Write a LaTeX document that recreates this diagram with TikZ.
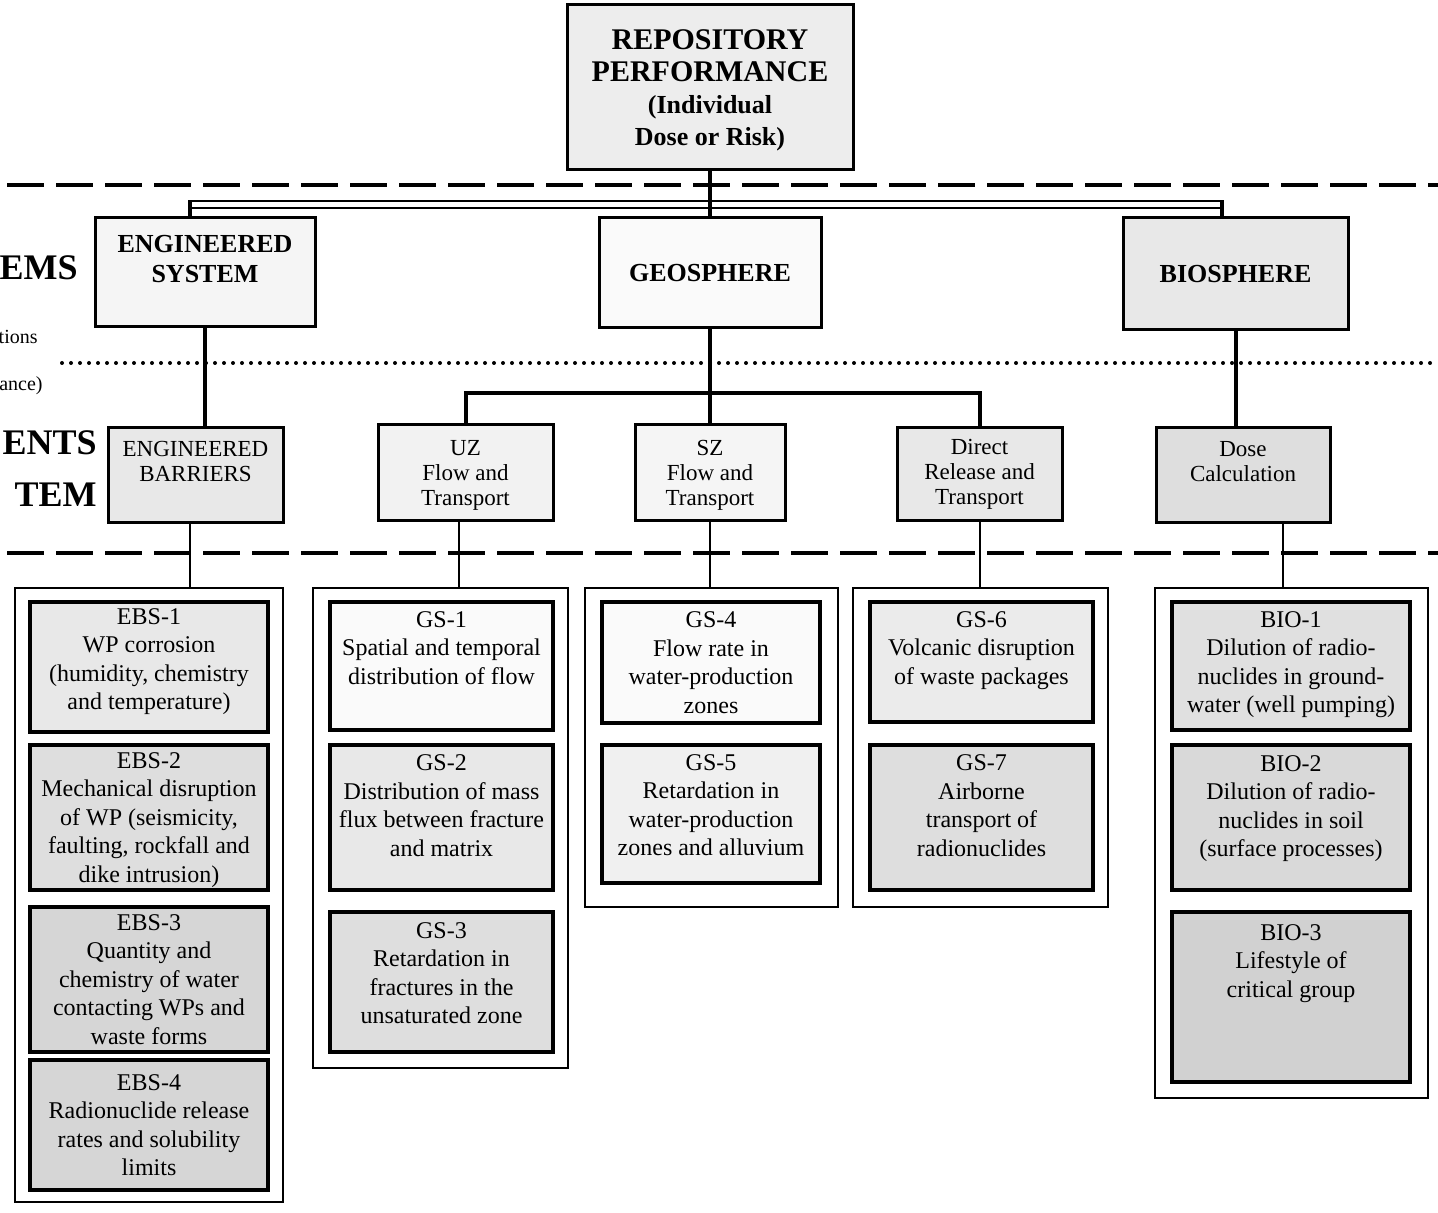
\documentclass[tikz,border=0pt]{standalone}
\usepackage{fontspec}
\setmainfont{Liberation Serif}

\tikzset{
  topbox/.style={draw, line width=1.5pt, inner sep=0pt, align=center, font=\bfseries\fontsize{15}{16}\selectfont},
  sysbox/.style={draw, line width=1.5pt, inner sep=0pt, align=center, font=\bfseries\fontsize{13}{15}\selectfont},
  compbox/.style={draw, line width=1.5pt, inner sep=0pt, align=center, font=\fontsize{11.5}{12.5}\selectfont},
  groupbox/.style={draw, line width=1.3pt, fill=white, inner sep=0pt},
  itembox/.style={draw, line width=1.6pt, inner sep=0pt, minimum width=119pt, align=center, font=\fontsize{12}{14.25}\selectfont},
  gsbox/.style={itembox, minimum width=111.5pt},
  sidebig/.style={inner sep=0pt, anchor=east, font=\bfseries\fontsize{18}{20}\selectfont},
  sidesmall/.style={inner sep=0pt, anchor=east, font=\fontsize{10}{12}\selectfont},
  link/.style={line width=2pt},
  sublink/.style={line width=1pt},
  bus/.style={double, line width=1pt, double distance=2.5pt},
  layer/.style={line width=2.2pt, dash pattern=on 18.5pt off 6pt},
  sublayer/.style={line width=2pt, line cap=round, dash pattern=on 0pt off 4.5pt}
}

\begin{document}
\begin{tikzpicture}[x=0.5pt, y=-0.5pt]
\useasboundingbox (0,0) rectangle (1438,1213);

\draw[layer] (7,185) -- (1438,185);
\draw[sublayer] (62,363) -- (1438,363);
\draw[layer] (7,553) -- (1438,553);

\node[sidebig] (sysa) at (78,268) {EMS};
\node[sidesmall] (sysb) at (38,337) {tions};
\node[sidesmall] (sysc) at (43,386) {ance)};
\node[sidebig] (compa) at (97,443) {ENTS};
\node[sidebig] (compb) at (97,495) {TEM};

\node[topbox, fill=black!7, minimum width=143pt, minimum height=82.5pt, text depth=-2pt] (repo) at (710,87.5)
  {REPOSITORY\\PERFORMANCE\\
   \fontsize{13}{16}\selectfont (Individual\\
   \fontsize{13}{16}\selectfont Dose or Risk)};
\node[sysbox, fill=black!4, minimum width=110pt, minimum height=54.5pt, text depth=14pt] (es) at (205,272.5) {ENGINEERED\\SYSTEM};
\node[sysbox, fill=black!2, minimum width=111pt, minimum height=55pt] (geo) at (710,273) {GEOSPHERE};
\node[sysbox, fill=black!9, minimum width=112.5pt, minimum height=56pt] (bio) at (1235.5,274) {BIOSPHERE};

\coordinate (busl) at (190,204.5);
\coordinate (busr) at (1222,204.5);
\draw[bus] (busl) -- (busr);
\draw[link] (es.north -| busl) -- ([yshift=2.25pt]busl);
\draw[link] (bio.north -| busr) -- ([yshift=2.25pt]busr);
\draw[link] (repo) -- (geo);

\node[compbox, fill=black!9, minimum width=87.5pt, minimum height=47pt, text depth=14pt] (eb) at (195.5,475) {ENGINEERED\\BARRIERS};
\node[compbox, fill=black!5, minimum width=87.5pt, minimum height=47.5pt, text depth=-4pt] (uz) at (465.5,472.5) {UZ\\Flow and\\Transport};
\node[compbox, fill=black!4, minimum width=75pt, minimum height=47.5pt, text depth=-4pt] (sz) at (710,472.5) {SZ\\Flow and\\Transport};
\node[compbox, fill=black!9, minimum width=82.5pt, minimum height=46pt] (dr) at (979.5,474) {Direct\\Release and\\Transport};
\node[compbox, fill=black!13, minimum width=87pt, minimum height=47pt, text depth=14pt] (dose) at (1243,475) {Dose\\Calculation};

\coordinate (gbus) at (710,393);
\draw[link] (es.south) -- (es.south |- eb.north);
\draw[link] (geo) -- (sz);
\draw[link] (uz.north) |- (gbus) -| (dr.north);
\draw[link] (bio.south) -- (bio.south |- dose.north);

\node[groupbox, minimum width=134pt, minimum height=307pt] (ebsg) at (149,895) {};
\node[groupbox, minimum width=127.5pt, minimum height=240pt] (gsa) at (440.5,828) {};
\node[groupbox, minimum width=126.5pt, minimum height=159.5pt] (gsb) at (711.5,747.5) {};
\node[groupbox, minimum width=127.5pt, minimum height=159.5pt] (gsc) at (980.5,747.5) {};
\node[groupbox, minimum width=136.5pt, minimum height=255pt] (biog) at (1291.5,843) {};

\draw[sublink] ([xshift=-3pt]eb.south) -- ([xshift=-3pt]eb.south |- ebsg.north);
\draw[sublink] ([xshift=-3.5pt]uz.south) -- ([xshift=-3.5pt]uz.south |- gsa.north);
\draw[sublink] (sz.south) -- (sz.south |- gsb.north);
\draw[sublink] (dr.south) -- (dr.south |- gsc.north);
\draw[sublink] ([xshift=20pt]dose.south) -- ([xshift=20pt]dose.south |- biog.north);

\node[itembox, fill=black!9, minimum height=65pt, text depth=8pt] (ebs1) at (149,667) {EBS-1\\WP corrosion\\(humidity, chemistry\\and temperature)};
\node[itembox, fill=black!13, minimum height=72.5pt, text depth=-2pt] (ebs2) at (149,817.5) {EBS-2\\Mechanical disruption\\of WP (seismicity,\\faulting, rockfall and\\dike intrusion)};
\node[itembox, fill=black!16, minimum height=72.5pt] (ebs3) at (149,979.5) {EBS-3\\Quantity and\\chemistry of water\\contacting WPs and\\waste forms};
\node[itembox, fill=black!16, minimum height=65pt] (ebs4) at (149,1125) {EBS-4\\Radionuclide release\\rates and solubility\\limits};

\node[gsbox, fill=black!2, minimum height=64pt, text depth=18pt] (gs1) at (441.5,666) {GS-1\\Spatial and temporal\\distribution of flow};
\node[gsbox, fill=black!9, minimum height=72.5pt, text depth=12pt] (gs2) at (441.5,817.5) {GS-2\\Distribution of mass\\flux between fracture\\and matrix};
\node[gsbox, fill=black!13, minimum height=70pt, text depth=9pt] (gs3) at (441.5,982) {GS-3\\Retardation in\\fractures in the\\unsaturated zone};

\node[gsbox, fill=black!2, minimum width=109pt, minimum height=60.5pt] (gs4) at (711,662.5) {GS-4\\Flow rate in\\water-production\\zones};
\node[gsbox, fill=black!6, minimum width=109pt, minimum height=69pt, text depth=9pt] (gs5) at (711,814) {GS-5\\Retardation in\\water-production\\zones and alluvium};

\node[gsbox, fill=black!8, minimum height=60pt, text depth=14pt] (gs6) at (981.5,662) {GS-6\\Volcanic disruption\\of waste packages};
\node[gsbox, fill=black!13, minimum height=72.5pt, text depth=12pt] (gs7) at (981.5,817.5) {GS-7\\Airborne\\transport of\\radionuclides};

\node[itembox, fill=black!12, minimum height=64pt, text depth=4pt] (bio1) at (1291,666) {BIO-1\\Dilution of radio-\\nuclides in ground-\\water (well pumping)};
\node[itembox, fill=black!15, minimum height=72.5pt, text depth=11.5pt] (bio2) at (1291,817.5) {BIO-2\\Dilution of radio-\\nuclides in soil\\(surface processes)};
\node[itembox, fill=black!18, minimum height=85pt, text depth=36pt] (bio3) at (1291,997) {BIO-3\\Lifestyle of\\critical group};
\end{tikzpicture}
\end{document}
